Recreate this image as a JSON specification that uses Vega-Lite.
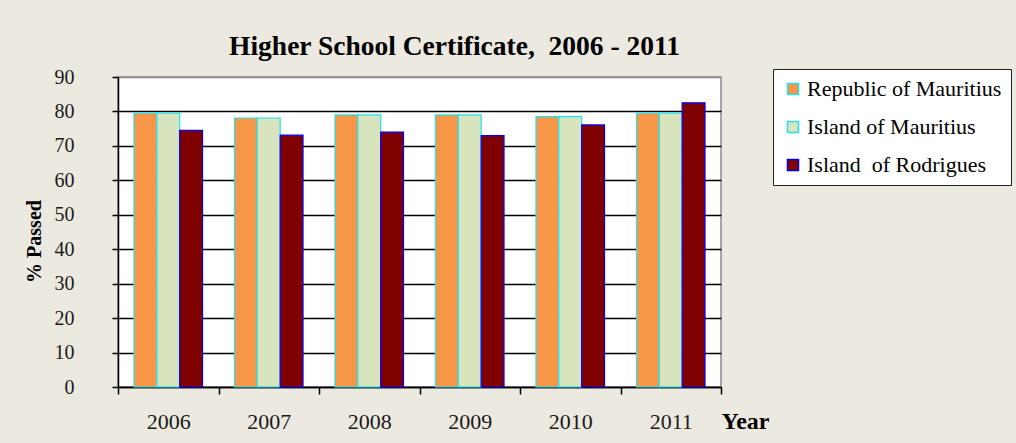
{
  "$schema": "https://vega.github.io/schema/vega-lite/v6.json",
  "width": 603,
  "height": 310,
  "autosize": {"type": "none"},
  "padding": {"left": 118, "top": 77, "right": 295, "bottom": 56},
  "background": "#ECE9E0",
  "title": {
    "text": "Higher School Certificate,\u00a0 2006 - 2011",
    "font": "Liberation Serif",
    "fontSize": 27.5,
    "fontWeight": "bold",
    "color": "#000000",
    "anchor": "middle",
    "baseline": "alphabetic",
    "offset": 22,
    "dx": 35,
    "dy": 37
  },
  "data": {
    "values": [
      {"year": "2006", "region": "Republic of Mauritius", "pct": 79.5},
      {"year": "2006", "region": "Island of Mauritius", "pct": 79.5},
      {"year": "2006", "region": "Island\u00a0 of Rodrigues", "pct": 74.5},
      {"year": "2007", "region": "Republic of Mauritius", "pct": 78.1},
      {"year": "2007", "region": "Island of Mauritius", "pct": 78.1},
      {"year": "2007", "region": "Island\u00a0 of Rodrigues", "pct": 73.1},
      {"year": "2008", "region": "Republic of Mauritius", "pct": 79.0},
      {"year": "2008", "region": "Island of Mauritius", "pct": 79.0},
      {"year": "2008", "region": "Island\u00a0 of Rodrigues", "pct": 74.0},
      {"year": "2009", "region": "Republic of Mauritius", "pct": 79.0},
      {"year": "2009", "region": "Island of Mauritius", "pct": 79.0},
      {"year": "2009", "region": "Island\u00a0 of Rodrigues", "pct": 73.0},
      {"year": "2010", "region": "Republic of Mauritius", "pct": 78.5},
      {"year": "2010", "region": "Island of Mauritius", "pct": 78.5},
      {"year": "2010", "region": "Island\u00a0 of Rodrigues", "pct": 76.1},
      {"year": "2011", "region": "Republic of Mauritius", "pct": 79.5},
      {"year": "2011", "region": "Island of Mauritius", "pct": 79.5},
      {"year": "2011", "region": "Island\u00a0 of Rodrigues", "pct": 82.5}
    ]
  },
  "mark": {"type": "bar", "strokeWidth": 1.2, "opacity": 1},
  "encoding": {
    "x": {
      "field": "year",
      "type": "nominal",
      "scale": {"paddingInner": 0, "paddingOuter": 0},
      "axis": {
        "title": "Year",
        "labelAngle": 0,
        "tickBand": "extent",
        "grid": false,
        "labelFont": "Liberation Serif",
        "labelFontSize": 22,
        "labelColor": "#1a1a1a",
        "labelPadding": 17,
        "tickSize": 7,
        "tickColor": "#000000",
        "tickWidth": 1.5,
        "domainColor": "#000000",
        "domainWidth": 1.5,
        "titleFont": "Liberation Serif",
        "titleFontSize": 24,
        "titleFontWeight": "bold",
        "titleColor": "#000000",
        "titleX": 603,
        "titleY": 41,
        "titleAlign": "left",
        "titleBaseline": "alphabetic"
      }
    },
    "xOffset": {
      "field": "region",
      "type": "nominal",
      "scale": {"domain": ["Republic of Mauritius", "Island of Mauritius", "Island\u00a0 of Rodrigues"], "paddingInner": 0, "paddingOuter": 0.7}
    },
    "y": {
      "field": "pct",
      "type": "quantitative",
      "scale": {"domain": [0, 90], "nice": false},
      "axis": {
        "title": "% Passed",
        "values": [0, 10, 20, 30, 40, 50, 60, 70, 80, 90],
        "grid": true,
        "gridColor": {"condition": {"test": "datum.value == 90", "value": "#8c8c8c"}, "value": "#000000"},
        "gridWidth": 1.5,
        "labelFont": "Liberation Serif",
        "labelFontSize": 20,
        "labelColor": "#1a1a1a",
        "labelPadding": 38,
        "tickSize": 6,
        "tickColor": "#000000",
        "tickWidth": 1.5,
        "domainColor": "#000000",
        "domainWidth": 1.5,
        "titleFont": "Liberation Serif",
        "titleFontSize": 20,
        "titleFontWeight": "bold",
        "titleColor": "#000000",
        "titleX": -74,
        "titleY": 164
      }
    },
    "color": {
      "field": "region",
      "type": "nominal",
      "scale": {"domain": ["Republic of Mauritius", "Island of Mauritius", "Island\u00a0 of Rodrigues"], "range": ["#F79646", "#D7E4BD", "#800000"]},
      "legend": {
        "title": null,
        "orient": "none",
        "legendX": 655,
        "legendY": -8,
        "fillColor": "#FFFFFF",
        "strokeColor": "#222222",
        "padding": 9,
        "symbolType": "square",
        "symbolSize": 121,
        "symbolStrokeWidth": 1.5,
        "symbolOpacity": 1,
        "labelFont": "Liberation Serif",
        "labelFontSize": 22,
        "labelColor": "#000000",
        "labelOffset": 3,
        "rowPadding": 16,
        "labelLimit": 400
      }
    },
    "stroke": {
      "field": "region",
      "type": "nominal",
      "scale": {"domain": ["Republic of Mauritius", "Island of Mauritius", "Island\u00a0 of Rodrigues"], "range": ["#1EE4F2", "#1EE4F2", "#0000FF"]},
      "legend": {
        "title": null,
        "orient": "none",
        "legendX": 655,
        "legendY": -8,
        "fillColor": "#FFFFFF",
        "strokeColor": "#222222",
        "padding": 9,
        "symbolType": "square",
        "symbolSize": 121,
        "symbolStrokeWidth": 1.5,
        "symbolOpacity": 1,
        "labelFont": "Liberation Serif",
        "labelFontSize": 22,
        "labelColor": "#000000",
        "labelOffset": 3,
        "rowPadding": 16,
        "labelLimit": 400
      }
    }
  },
  "config": {
    "view": {"stroke": "#8c8c8c", "strokeWidth": 1.5, "fill": "#FFFFFF"}
  }
}
